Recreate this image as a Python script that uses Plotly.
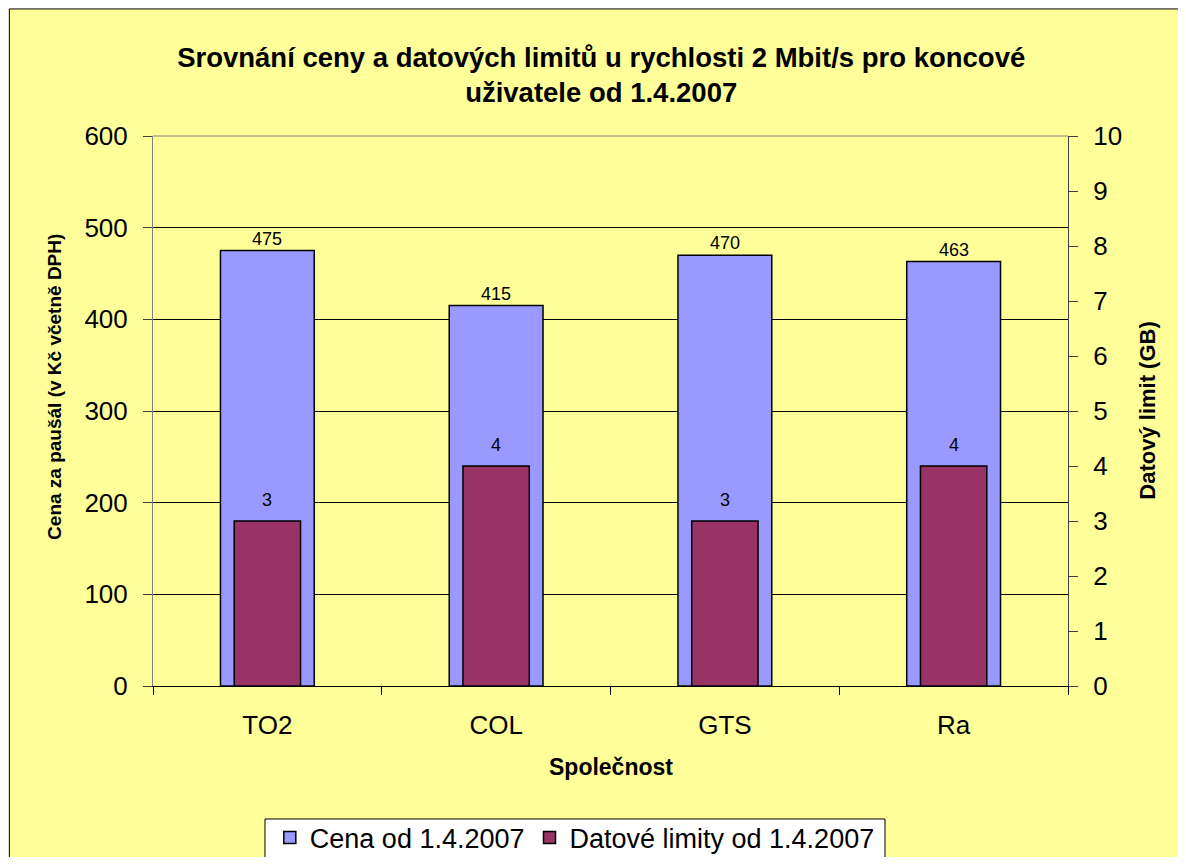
import plotly.graph_objects as go

# data
companies = ['TO2', 'COL', 'GTS', 'Ra']
price = [475, 415, 470, 463]          # Kč incl. VAT
data_limit = [3, 4, 3, 4]             # GB

blue = '#9999FF'
maroon = '#993366'
yellow = '#FFFF99'
font_family = 'Liberation Sans, Arial, sans-serif'

fig = go.Figure()

fig.add_trace(go.Bar(
    x=companies, y=price, name='Cena od 1.4.2007',
    marker=dict(color=blue, line=dict(color='black', width=1.5)),
    width=0.41, offset=-0.205, yaxis='y'
))
fig.add_trace(go.Bar(
    x=companies, y=data_limit, name='Datové limity od 1.4.2007',
    marker=dict(color=maroon, line=dict(color='black', width=1.5)),
    width=0.29, offset=-0.145, yaxis='y2'
))

# value labels above the bars
annotations = []
for c, v in zip(companies, price):
    annotations.append(dict(x=c, y=v, xref='x', yref='y', text=str(v), showarrow=False,
                            yanchor='bottom', yshift=0, font=dict(size=18, color='black')))
for c, v in zip(companies, data_limit):
    annotations.append(dict(x=c, y=v, xref='x', yref='y2', text=str(v), showarrow=False,
                            yanchor='bottom', yshift=9, font=dict(size=18, color='black')))

# axis titles
annotations.append(dict(text='<b>Cena za paušál (v Kč včetně DPH)</b>', textangle=-90,
                        xref='paper', yref='paper', x=-0.107, y=0.544, showarrow=False,
                        xanchor='center', yanchor='middle',
                        font=dict(size=19, color='black')))
annotations.append(dict(text='<b>Datový limit (GB)</b>', textangle=-90,
                        xref='paper', yref='paper', x=1.086, y=0.5, showarrow=False,
                        xanchor='center', yanchor='middle',
                        font=dict(size=22, color='black')))
annotations.append(dict(text='<b>Společnost</b>', xref='paper', yref='paper',
                        x=0.5, y=-0.147, showarrow=False, xanchor='center', yanchor='middle',
                        font=dict(size=23, color='black')))

fig.update_layout(
    width=1170, height=849,
    margin=dict(l=145, r=110, t=128, b=171, autoexpand=False),
    paper_bgcolor='white', plot_bgcolor='white',
    font=dict(family=font_family, color='black'),
    barmode='overlay',
    title=dict(text='<b>Srovnání ceny a datových limitů u rychlosti 2 Mbit/s pro koncové<br>uživatele od 1.4.2007</b>',
               x=0.507, xanchor='center', y=0.931, yanchor='middle', yref='container',
               font=dict(size=27.5, color='black')),
    xaxis=dict(showline=True, linecolor='black', linewidth=1,
               ticks='outside', ticklen=8, tickson='boundaries', tickcolor='black',
               tickfont=dict(size=26), ticklabelstandoff=16, showgrid=False),
    yaxis=dict(range=[0, 600], dtick=100, showgrid=True, gridcolor='black', gridwidth=1,
               showline=True, linecolor='#808080', ticks='outside', ticklen=9, tickcolor='#404040',
               tickfont=dict(size=26), ticklabelstandoff=10, zeroline=False),
    yaxis2=dict(range=[0, 10], dtick=1, overlaying='y', side='right', showgrid=False,
                showline=True, linecolor='#404040', ticks='outside', ticklen=9, tickcolor='#404040',
                tickfont=dict(size=26), ticklabelstandoff=10, zeroline=False),
    legend=dict(orientation='h', x=0.461, xanchor='center', y=-0.2764, yanchor='middle',
                bgcolor='rgba(0,0,0,0)', borderwidth=0,
                font=dict(size=27), traceorder='normal'),
    annotations=annotations,
    shapes=[
        dict(type='rect', xref='paper', yref='paper', x0=-0.157, x1=1.15, y0=-0.34, y1=1.231,
             fillcolor=yellow, line=dict(color='black', width=1), layer='below'),
        # legend box
        dict(type='rect', xref='paper', yref='paper', x0=0.1224, x1=0.8, y0=-0.3127, y1=-0.2418,
             fillcolor='white', line=dict(color='black', width=1), layer='below'),
        dict(type='line', xref='paper', yref='paper', x0=0, x1=1, y0=1, y1=1,
             line=dict(color='#808080', width=1), layer='above'),
    ],
    showlegend=True,
)

fig.write_html('out.html')
